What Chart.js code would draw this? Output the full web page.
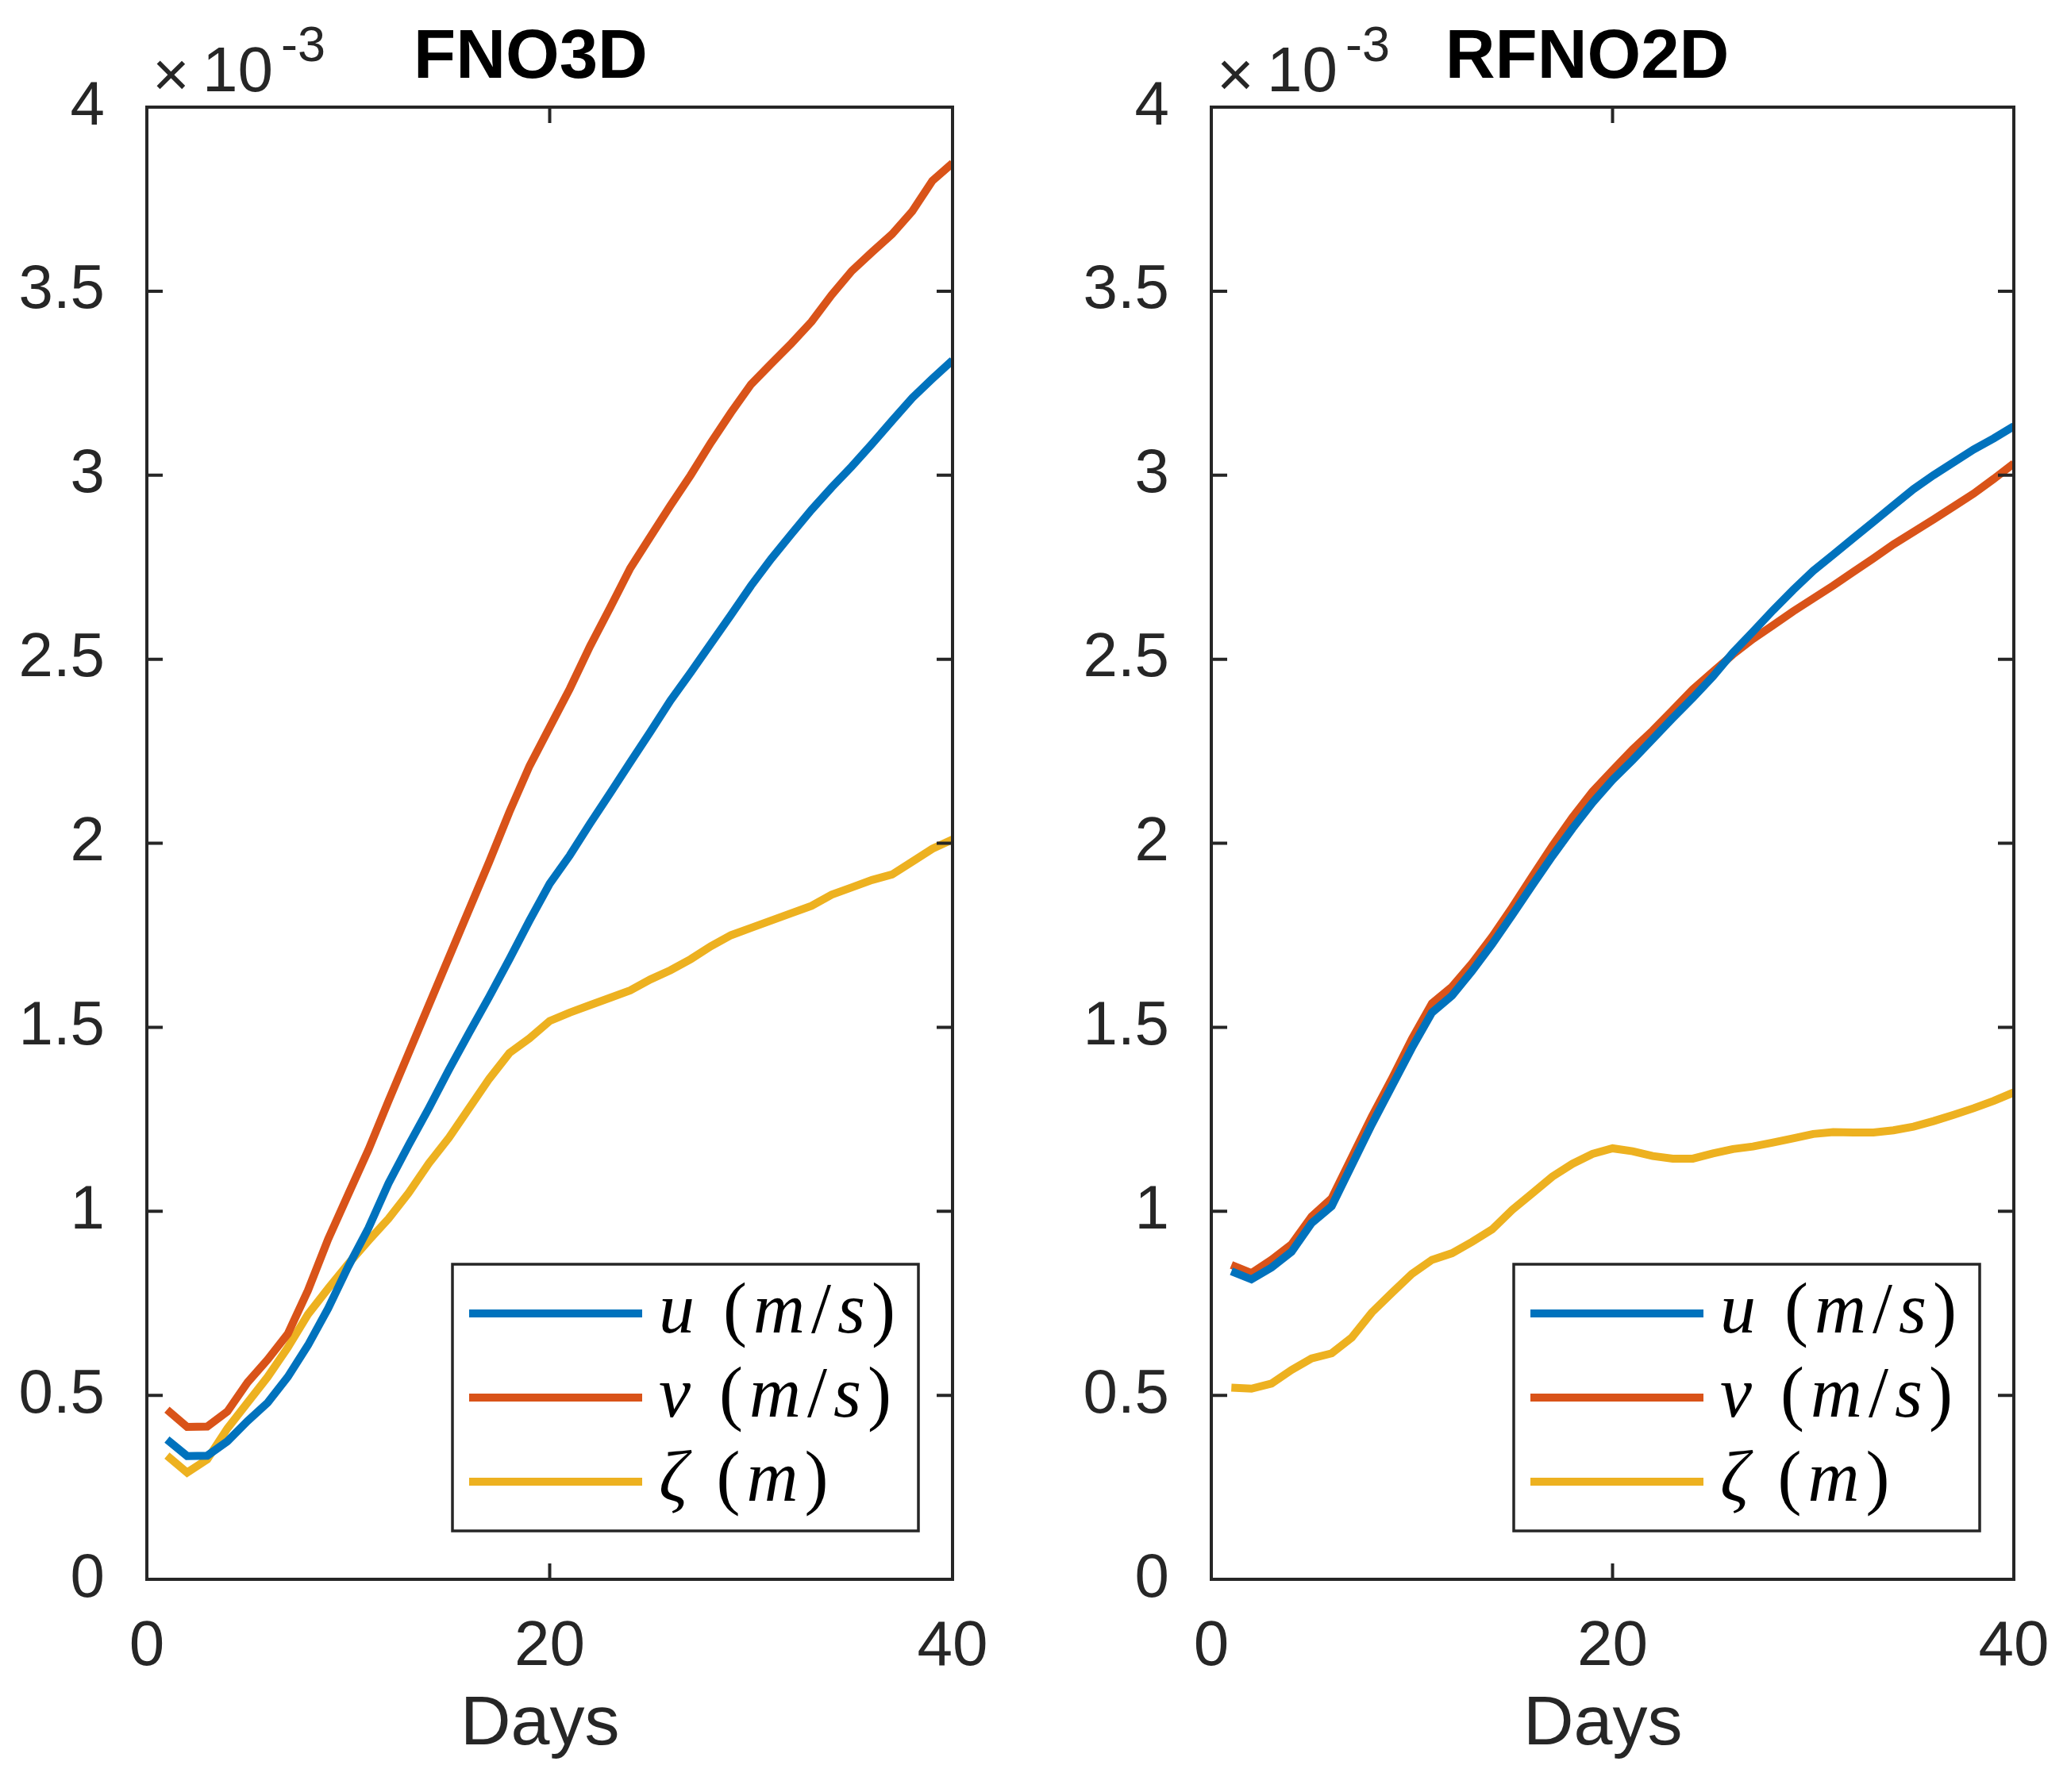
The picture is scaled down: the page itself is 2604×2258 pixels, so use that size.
<!DOCTYPE html>
<html>
<head>
<meta charset="utf-8">
<title>FNO3D / RFNO2D error</title>
<script src="https://cdn.jsdelivr.net/npm/chart.js@4.4.1/dist/chart.umd.min.js"></script>
<style>
  body { margin: 0; background: #fff; }
  #wrap { position: relative; width: 2604px; height: 2258px; }
  canvas { position: absolute; top: 0; }
</style>
</head>
<body>
<div id="wrap">
  <canvas id="fno3d" width="1302" height="2258" style="left:0px"></canvas>
  <canvas id="rfno2d" width="1302" height="2258" style="left:1302px"></canvas>
</div>
<script>
// days on the x axis
var days = [1, 2, 3, 4, 5, 6, 7, 8, 9, 10, 11, 12, 13, 14, 15, 16, 17, 18, 19, 20,
            21, 22, 23, 24, 25, 26, 27, 28, 29, 30, 31, 32, 33, 34, 35, 36, 37, 38, 39, 40];

var seriesLabels = ['u (m/s)', 'v (m/s)', 'ζ (m)'];
var yTicks = [0, 0.5, 1, 1.5, 2, 2.5, 3, 3.5, 4];
var xTicks = [0, 20, 40];

// values are in units of 1e-3
var fno3dU = [0.38, 0.335, 0.336, 0.375, 0.43, 0.48, 0.55, 0.636, 0.736, 0.85,
              0.954, 1.076, 1.18, 1.28, 1.385, 1.485, 1.583, 1.685, 1.79, 1.89,
              1.967, 2.053, 2.136, 2.22, 2.303, 2.388, 2.464, 2.542, 2.62, 2.70,
              2.773, 2.84, 2.906, 2.967, 3.024, 3.085, 3.148, 3.21, 3.262, 3.312];
var fno3dV = [0.461, 0.414, 0.415, 0.456, 0.535, 0.597, 0.667, 0.785, 0.924, 1.046,
              1.167, 1.30, 1.43, 1.56, 1.69, 1.82, 1.95, 2.085, 2.21, 2.315,
              2.42, 2.535, 2.64, 2.747, 2.833, 2.918, 3.0, 3.088, 3.17, 3.247,
              3.303, 3.358, 3.417, 3.49, 3.555, 3.606, 3.655, 3.717, 3.80, 3.848];
var fno3dZeta = [0.336, 0.29, 0.326, 0.41, 0.48, 0.55, 0.63, 0.72, 0.79, 0.857,
                 0.92, 0.98, 1.05, 1.13, 1.20, 1.28, 1.36, 1.43, 1.47, 1.517,
                 1.54, 1.56, 1.58, 1.60, 1.63, 1.655, 1.685, 1.72, 1.75, 1.77,
                 1.79, 1.81, 1.83, 1.86, 1.88, 1.90, 1.915, 1.95, 1.985, 2.01];

var rfno2dU = [0.837, 0.815, 0.847, 0.89, 0.968, 1.014, 1.125, 1.236, 1.34, 1.444,
               1.54, 1.586, 1.653, 1.726, 1.805, 1.886, 1.965, 2.04, 2.11, 2.172,
               2.226, 2.283, 2.34, 2.395, 2.453, 2.518, 2.575, 2.633, 2.688, 2.74,
               2.784, 2.829, 2.873, 2.918, 2.962, 3.0, 3.035, 3.07, 3.10, 3.133];
var rfno2dV = [0.854, 0.832, 0.868, 0.91, 0.986, 1.035, 1.146, 1.257, 1.36, 1.468,
               1.565, 1.61, 1.674, 1.746, 1.826, 1.91, 1.993, 2.07, 2.14, 2.198,
               2.255, 2.306, 2.362, 2.418, 2.466, 2.513, 2.555, 2.592, 2.63, 2.665,
               2.70, 2.737, 2.774, 2.812, 2.846, 2.88, 2.915, 2.95, 2.99, 3.032];
var rfno2dZeta = [0.521, 0.518, 0.532, 0.569, 0.60, 0.614, 0.657, 0.725, 0.778, 0.83,
                  0.868, 0.886, 0.917, 0.951, 1.004, 1.049, 1.094, 1.129, 1.156, 1.171,
                  1.163, 1.15, 1.143, 1.143, 1.157, 1.169, 1.176, 1.187, 1.198, 1.21,
                  1.215, 1.214, 1.214, 1.22, 1.23, 1.245, 1.262, 1.28, 1.30, 1.323];

var colors = ['#0072BD', '#D95319', '#EDB120'];
var axisColor = '#262626';
var sans = '"Liberation Sans", Arial, Helvetica, sans-serif';
var serif = '"Liberation Serif", "Times New Roman", serif';

// draws the matlab style box, inner ticks, title, exponent and legend
var matlabPlugin = {
	id: 'matlab',
	afterDatasetsDraw: function(chart, args, opts) {
		var ctx = chart.ctx;
		var a = chart.chartArea;
		var xs = chart.scales.x, ys = chart.scales.y;
		var tl = 20;

		ctx.save();
		ctx.strokeStyle = axisColor;
		ctx.lineWidth = 4;
		ctx.beginPath();
		xs.ticks.forEach(function(t) {
			var px = xs.getPixelForValue(t.value);
			ctx.moveTo(px, a.bottom); ctx.lineTo(px, a.bottom - tl);
			ctx.moveTo(px, a.top); ctx.lineTo(px, a.top + tl);
		});
		ys.ticks.forEach(function(t) {
			var py = ys.getPixelForValue(t.value);
			ctx.moveTo(a.left, py); ctx.lineTo(a.left + tl, py);
			ctx.moveTo(a.right, py); ctx.lineTo(a.right - tl, py);
		});
		ctx.stroke();
		ctx.strokeRect(a.left, a.top, a.right - a.left, a.bottom - a.top);

		// title
		ctx.fillStyle = '#000';
		ctx.font = 'bold 87px ' + sans;
		ctx.textAlign = 'center';
		ctx.textBaseline = 'alphabetic';
		ctx.fillText(opts.title, (a.left + a.right) / 2 + opts.titleShift, 98);

		// x10^-3 exponent label
		ctx.fillStyle = axisColor;
		ctx.textAlign = 'left';
		ctx.font = '80px ' + sans;
		ctx.fillText('×', a.left + 7, 121);
		ctx.fillText('10', a.left + 70, 115);
		ctx.font = '63px ' + sans;
		ctx.fillText('-3', a.left + 169, 77);

		// legend box
		var w = 587, h = 336;
		var bx = a.right - 43 - w, by = a.bottom - 61 - h;
		ctx.fillStyle = '#fff';
		ctx.fillRect(bx, by, w, h);
		ctx.lineWidth = 3.5;
		ctx.strokeStyle = axisColor;
		ctx.strokeRect(bx, by, w, h);
		var rows = [62, 168, 274];
		chart.data.datasets.forEach(function(ds, i) {
			var ry = by + rows[i];
			ctx.strokeStyle = ds.borderColor;
			ctx.lineWidth = 10;
			ctx.beginPath();
			ctx.moveTo(bx + 21, ry);
			ctx.lineTo(bx + 239, ry);
			ctx.stroke();
			drawMathLabel(ctx, ds.label, bx + 260, ry);
		});
		ctx.restore();
	}
};

// letters in italic, brackets and slash upright, like latex math
function drawMathLabel(ctx, text, x, y) {
	ctx.fillStyle = '#000';
	ctx.textAlign = 'left';
	ctx.textBaseline = 'middle';
	for (var i = 0; i < text.length; i++) {
		var ch = text[i];
		if (ch === ' ') { x += 28; continue; }
		if (/[a-zA-Zζ]/.test(ch)) ctx.font = 'italic 90px ' + serif;
		else ctx.font = '90px ' + serif;
		ctx.fillText(ch, x, y);
		x += ctx.measureText(ch).width + 8;
	}
}

function makeChart(id, title, titleShift, uData, vData, zData, yAxisWidth, rightPad) {
	var ctx = document.getElementById(id).getContext('2d');
	var values = [uData, vData, zData];
	var datasets = [];
	for (var i = 0; i < values.length; i++) {
		datasets.push({
			label: seriesLabels[i],
			data: values[i],
			borderColor: colors[i],
			backgroundColor: colors[i],
			borderWidth: 10,
			pointRadius: 0,
			tension: 0,
			fill: false
		});
	}
	return new Chart(ctx, {
		type: 'line',
		data: { labels: days, datasets: datasets },
		plugins: [matlabPlugin],
		options: {
			responsive: false,
			animation: false,
			devicePixelRatio: 1,
			layout: { padding: { left: 0, right: rightPad, top: 135, bottom: 0 } },
			plugins: {
				legend: { display: false },
				tooltip: { enabled: false },
				matlab: { title: title, titleShift: titleShift }
			},
			scales: {
				x: {
					type: 'linear',
					min: 0,
					max: 40,
					grid: { display: false },
					border: { display: false },
					afterBuildTicks: function(s) {
						s.ticks = xTicks.map(function(v) { return { value: v }; });
					},
					ticks: {
						padding: 30,
						color: axisColor,
						font: { family: sans, size: 80 },
						maxRotation: 0
					},
					title: {
						display: true,
						text: 'Days ',
						color: axisColor,
						font: { family: sans, size: 88 },
						padding: { top: 0, bottom: 31 }
					},
					afterFit: function(s) {
						s.height = 268;
						s.paddingLeft = 0;
						s.paddingRight = 0;
					}
				},
				y: {
					min: 0,
					max: 4,
					grid: { display: false },
					border: { display: false },
					afterBuildTicks: function(s) {
						s.ticks = yTicks.map(function(v) { return { value: v }; });
					},
					ticks: {
						padding: 45,
						color: axisColor,
						font: { family: sans, size: 78 },
						callback: function(v) { return String(v); }
					},
					afterFit: function(s) {
						s.width = yAxisWidth;
						s.paddingTop = 0;
						s.paddingBottom = 0;
					}
				}
			}
		}
	});
}

makeChart('fno3d', 'FNO3D', -24, fno3dU, fno3dV, fno3dZeta, 185, 102);
makeChart('rfno2d', 'RFNO2D', -32, rfno2dU, rfno2dV, rfno2dZeta, 224, 67);
</script>
</body>
</html>
